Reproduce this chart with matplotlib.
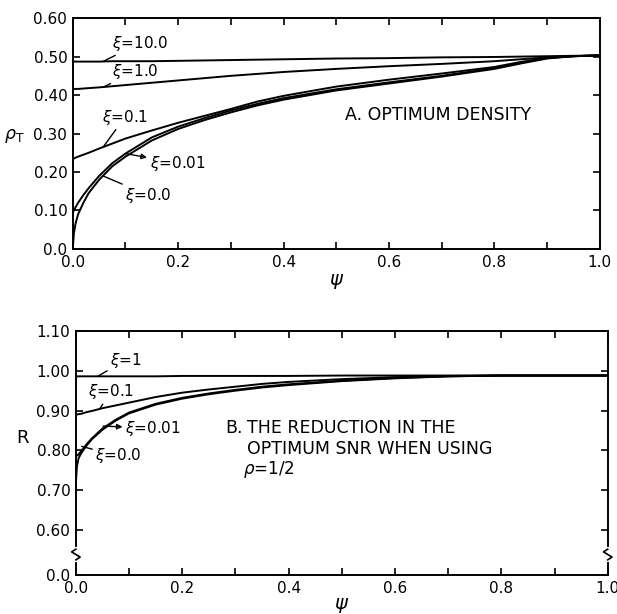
import numpy as np
import matplotlib
matplotlib.use("Agg")
import matplotlib.pyplot as plt
from matplotlib.transforms import blended_transform_factory

plt.rcParams['font.family'] = ['DejaVu Sans']
plt.rcParams['font.size'] = 11
plt.rcParams['mathtext.fontset'] = 'dejavusans'

psi = [0.0, 0.002, 0.005, 0.01, 0.02, 0.03, 0.05, 0.075, 0.1, 0.15, 0.2, 0.25,
       0.3, 0.35, 0.4, 0.5, 0.6, 0.7, 0.8, 0.85, 0.9, 0.95, 1.0]

# --- panel A: optimum density rho_T vs psi ---
rho_xi0 = [0.0, 0.04, 0.065, 0.09, 0.12, 0.145, 0.18, 0.215, 0.24, 0.282, 0.312, 0.335,
           0.355, 0.373, 0.388, 0.412, 0.43, 0.448, 0.468, 0.482, 0.495, 0.501, 0.503]
rho_xi001 = [0.095, 0.1, 0.108, 0.12, 0.14, 0.158, 0.19, 0.223, 0.248, 0.29, 0.318, 0.34,
             0.36, 0.377, 0.392, 0.415, 0.433, 0.45, 0.47, 0.484, 0.496, 0.501, 0.503]
rho_xi01 = [0.234, 0.235, 0.237, 0.24, 0.245, 0.25, 0.261, 0.274, 0.287, 0.308, 0.328, 0.346,
            0.364, 0.383, 0.398, 0.422, 0.44, 0.456, 0.473, 0.486, 0.497, 0.501, 0.503]
rho_xi1 = [0.415, 0.415, 0.416, 0.416, 0.417, 0.418, 0.42, 0.423, 0.426, 0.432, 0.438, 0.444,
           0.45, 0.455, 0.46, 0.468, 0.475, 0.481, 0.488, 0.493, 0.498, 0.501, 0.503]
rho_xi10 = [0.487, 0.487, 0.487, 0.487, 0.487, 0.487, 0.487, 0.488, 0.488, 0.488, 0.489, 0.49,
            0.491, 0.492, 0.493, 0.495, 0.496, 0.498, 0.499, 0.5, 0.501, 0.502, 0.503]

# --- panel B: SNR reduction R vs psi ---
r_xi0 = [0.72, 0.76, 0.78, 0.793, 0.812, 0.828, 0.852, 0.875, 0.893, 0.915, 0.93, 0.941,
         0.95, 0.958, 0.964, 0.974, 0.981, 0.986, 0.988, 0.988, 0.988, 0.988, 0.988]
r_xi001 = [0.785, 0.787, 0.79, 0.798, 0.815, 0.83, 0.855, 0.877, 0.895, 0.917, 0.932, 0.943,
           0.952, 0.96, 0.966, 0.975, 0.982, 0.986, 0.988, 0.988, 0.988, 0.988, 0.988]
r_xi01 = [0.889, 0.89, 0.891, 0.892, 0.896, 0.899, 0.906, 0.913, 0.92, 0.934, 0.945, 0.953,
          0.96, 0.967, 0.972, 0.979, 0.984, 0.987, 0.988, 0.988, 0.988, 0.988, 0.988]
r_xi1 = [0.986, 0.986, 0.986, 0.986, 0.986, 0.986, 0.986, 0.986, 0.986, 0.986, 0.987, 0.987,
         0.987, 0.987, 0.987, 0.988, 0.988, 0.988, 0.988, 0.988, 0.988, 0.988, 0.988]

x_ticks = [0.0, 0.1, 0.2, 0.3, 0.4, 0.5, 0.6, 0.7, 0.8, 0.9, 1.0]
x_ticklabels = ['0.0', '', '0.2', '', '0.4', '', '0.6', '', '0.8', '', '1.0']
ya_ticks = [0.0, 0.1, 0.2, 0.3, 0.4, 0.5, 0.6]
ya_ticklabels = ['0.0', '0.10', '0.20', '0.30', '0.40', '0.50', '0.60']
# bottom axis is broken: the "0.0" tick sits just below 0.60
BREAK_BASE = 0.487
yb_ticks = [BREAK_BASE, 0.6, 0.7, 0.8, 0.9, 1.0, 1.1]
yb_ticklabels = ['0.0', '0.60', '0.70', '0.80', '0.90', '1.00', '1.10']

LW = 1.4


def style_axes(ax):
    ax.tick_params(direction='in', length=5, width=1.2, top=True, right=True,
                   labelsize=11, pad=4)
    for s in ax.spines.values():
        s.set_linewidth(1.4)
    ax.set_xlim(0, 1)
    ax.set_xticks(x_ticks)
    ax.set_xticklabels(x_ticklabels)


fig = plt.figure(figsize=(6.17, 6.14), dpi=100)
ax1 = fig.add_axes([0.118, 0.5945, 0.854, 0.376])
ax2 = fig.add_axes([0.123, 0.0635, 0.862, 0.3975])

# panel A
for vals in [rho_xi0, rho_xi001, rho_xi01, rho_xi1, rho_xi10]:
    ax1.plot(psi, vals, color='black', lw=LW)
style_axes(ax1)
ax1.set_ylim(0, 0.6)
ax1.set_yticks(ya_ticks)
ax1.set_yticklabels(ya_ticklabels)
ax1.set_xlabel(r'$\psi$', fontsize=14, labelpad=2)
ax1.set_ylabel(r'$\rho_{\rm T}$', fontsize=12.5, rotation=0, va='center')
ax1.yaxis.set_label_coords(-0.112, 0.49)

lead = dict(arrowstyle='-', color='black', lw=1.0, shrinkA=0, shrinkB=0)
tri = dict(arrowstyle='<|-', color='black', lw=1.0, shrinkA=0, shrinkB=0,
           mutation_scale=8, fill=False)
ax1.annotate(r'$\xi$=10.0', xy=(0.057, rho_xi10[6]), xytext=(0.074, 0.535),
             va='center', ha='left', arrowprops=lead)
ax1.annotate(r'$\xi$=1.0', xy=(0.057, rho_xi1[6]), xytext=(0.074, 0.462),
             va='center', ha='left', arrowprops=lead)
ax1.annotate(r'$\xi$=0.1', xy=(0.057, 0.264), xytext=(0.055, 0.342),
             va='center', ha='left', arrowprops=lead)
ax1.annotate(r'$\xi$=0.01', xy=(psi[8], rho_xi001[8]), xytext=(0.146, 0.223),
             va='center', ha='left', arrowprops=tri)
ax1.annotate(r'$\xi$=0.0', xy=(0.057, 0.19), xytext=(0.099, 0.14),
             va='center', ha='left', arrowprops=lead)
ax1.text(0.516, 0.348, 'A. OPTIMUM DENSITY', fontsize=12.5, va='center', ha='left')

# panel B
for vals in [r_xi0, r_xi001, r_xi01, r_xi1]:
    ax2.plot(psi, vals, color='black', lw=LW)
style_axes(ax2)
ax2.set_ylim(BREAK_BASE, 1.10)
ax2.set_yticks(yb_ticks)
ax2.set_yticklabels(yb_ticklabels)
ax2.set_xlabel(r'$\psi$', fontsize=14, labelpad=0)
ax2.set_ylabel('R', fontsize=13, rotation=0, va='center')
ax2.yaxis.set_label_coords(-0.101, 0.56)

ax2.annotate(r'$\xi$=1', xy=(0.041, r_xi1[6]), xytext=(0.064, 1.027),
             va='center', ha='left', arrowprops=lead)
ax2.annotate(r'$\xi$=0.1', xy=(0.045, 0.905), xytext=(0.023, 0.947),
             va='center', ha='left', arrowprops=lead)
ax2.annotate(r'$\xi$=0.01', xy=(0.051, 0.861), xytext=(0.093, 0.856),
             va='center', ha='left', arrowprops=tri)
ax2.annotate(r'$\xi$=0.0', xy=(0.011, 0.81), xytext=(0.036, 0.786),
             va='center', ha='left', arrowprops=lead)
ax2.text(0.28, 0.856, 'B.', fontsize=12.5, va='center', ha='left')
ax2.text(0.321, 0.856, 'THE REDUCTION IN THE', fontsize=12.5, va='center', ha='left')
ax2.text(0.321, 0.803, 'OPTIMUM SNR WHEN USING', fontsize=12.5, va='center', ha='left')
ax2.text(0.314, 0.751, r'$\rho$=1/2', fontsize=12, va='center', ha='left')

# axis break squiggles on both spines
trans = blended_transform_factory(ax2.transAxes, ax2.transData)
for xs in (0.0, 1.0):
    zx = [xs, xs - 0.008, xs + 0.008, xs]
    zy = [0.552, 0.545, 0.532, 0.525]
    ax2.plot([xs, xs], [0.525, 0.552], color='white', lw=3, transform=trans,
             clip_on=False, zorder=5)
    ax2.plot(zx, zy, color='black', lw=1.2, transform=trans, clip_on=False, zorder=6)

fig.savefig('out.png', dpi=100)
